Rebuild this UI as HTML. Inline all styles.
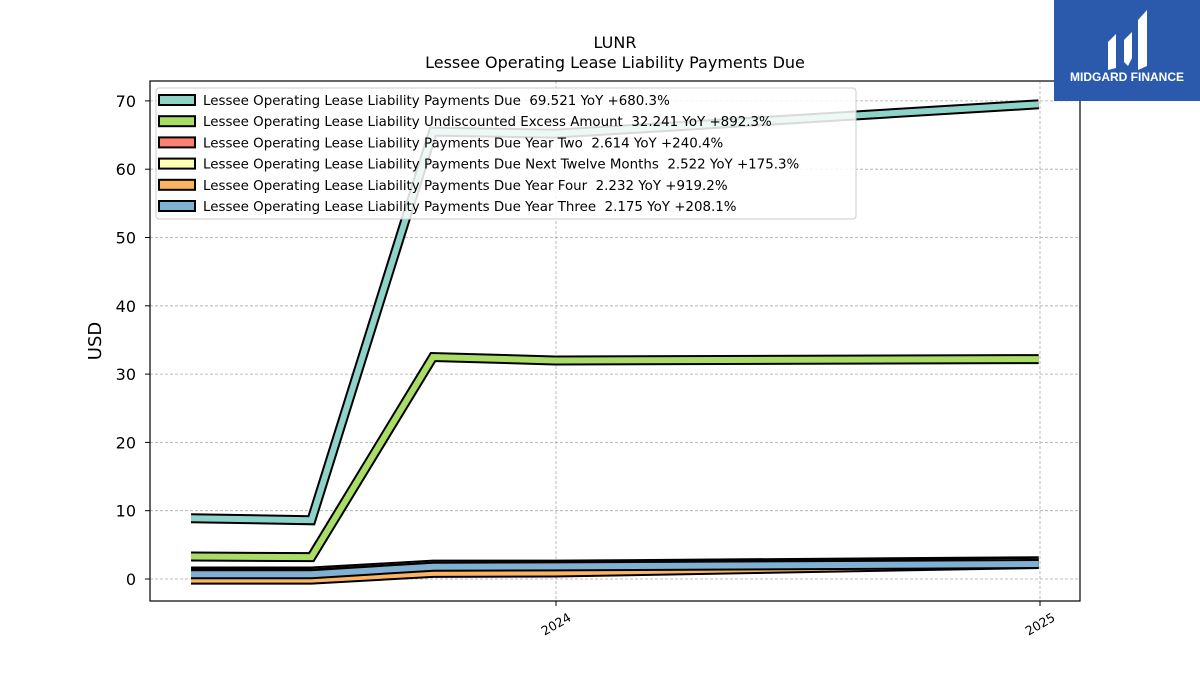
<!DOCTYPE html>
<html><head><meta charset="utf-8"><style>
body{margin:0;background:#fff;font-family:"Liberation Sans","DejaVu Sans",sans-serif}
svg text{font-family:"DejaVu Sans","Liberation Sans",sans-serif;white-space:pre}
</style></head><body>
<svg id="c" width="1200" height="675" xmlns="http://www.w3.org/2000/svg">
<rect width="1200" height="675" fill="#fff"/>
<text x="615" y="48" text-anchor="middle" font-size="16">LUNR</text>
<text x="615" y="68" text-anchor="middle" font-size="16">Lessee Operating Lease Liability Payments Due</text>
<g id="grid"></g><g id="series"></g>
<rect x="150" y="81" width="930" height="520" fill="none" stroke="#000" stroke-width="1.2"/>
<g id="axes"></g>
<text transform="translate(101,341) rotate(-90)" text-anchor="middle" font-size="18">USD</text>
<g id="legend"></g>
<g>
<rect x="1054" y="0" width="146" height="101" fill="#2b5aad"/>
<path d="M1108 42 l8 -8 v34 l-8 2z M1124 40 l8 -8 v26 l-4 8 l-4 -4z M1138 20 l9 -10 v56 l-9 4z" fill="#fff"/>
<text x="1127" y="81" text-anchor="middle" font-size="12" font-weight="bold" fill="#fff" style="font-family:'Liberation Sans',sans-serif">MIDGARD FINANCE</text>
</g>
</svg>
<script>
const dates=["2023-03-31","2023-06-30","2023-09-30","2023-12-31","2024-12-31"];
const seriesNames=["Lessee Operating Lease Liability Payments Due","Lessee Operating Lease Liability Undiscounted Excess Amount","Lessee Operating Lease Liability Payments Due Year Two","Lessee Operating Lease Liability Payments Due Next Twelve Months","Lessee Operating Lease Liability Payments Due Year Four","Lessee Operating Lease Liability Payments Due Year Three"];
const legendLabels=["69.521 YoY +680.3%","32.241 YoY +892.3%","2.614 YoY +240.4%","2.522 YoY +175.3%","2.232 YoY +919.2%","2.175 YoY +208.1%"];
const colors=["#8dd3c7","#aadd66","#fb8072","#ffffb3","#fdb462","#80b1d3"];
const sPayments=[8.9,8.6,65.5,65.2,69.5];
const sExcess=[3.3,3.2,32.5,32.0,32.2];
const sYearTwo=[1.1,1.1,2.1,2.1,2.6];
const sNext12=[0.8,0.8,1.8,1.8,2.5];
const sYearFour=[-0.1,-0.1,0.9,0.95,2.2];
const sYearThree=[0.7,0.7,1.8,1.85,2.2];
const allSeries=[sPayments,sExcess,sYearTwo,sNext12,sYearFour,sYearThree];
const yTicks=[0,10,20,30,40,50,60,70];
const xTicks=["2024-01-01","2025-01-01"];
const xTickLabels=["2024","2025"];
const NS="http://www.w3.org/2000/svg";
const t0=Date.parse("2024-01-01"),t1=Date.parse("2025-01-01");
function xs(d){return 556+(Date.parse(d)-t0)/(t1-t0)*484;}
function ys(v){return 579-v*6.83;}
function mk(tag,attrs,parent){const e=document.createElementNS(NS,tag);for(const k in attrs)e.setAttribute(k,attrs[k]);parent.appendChild(e);return e;}
const grid=document.getElementById('grid'),axes=document.getElementById('axes'),ser=document.getElementById('series'),leg=document.getElementById('legend');
yTicks.forEach(v=>{const y=ys(v);
const g=mk('line',{x1:150,x2:1080,y1:y,y2:y,stroke:'#aaa','stroke-dasharray':'3,2','stroke-width':0.8},grid);


mk('line',{x1:145,x2:150,y1:y,y2:y,stroke:'#000'},axes);
const t=mk('text',{x:136,y:y+6,'text-anchor':'end','font-size':16},axes);t.textContent=v;

});
xTicks.forEach((d,i)=>{const x=xs(d);
const g=mk('line',{x1:x,x2:x,y1:81,y2:601,stroke:'#aaa','stroke-dasharray':'3,2','stroke-width':0.8},grid);


mk('line',{x1:x,x2:x,y1:601,y2:606,stroke:'#000'},axes);
const t=mk('text',{x:x+16,y:620,'text-anchor':'end','font-size':12.5,transform:`rotate(-30 ${x+16} 620)`},axes);t.textContent=xTickLabels[i];

});
allSeries.forEach((s,i)=>{const pts=s.map((v,j)=>xs(dates[j])+','+ys(v)).join(' ');
const g=mk('g',{},ser);


mk('polyline',{points:pts,fill:'none',stroke:'#000','stroke-width':10,'stroke-linejoin':'miter'},g);
mk('polyline',{points:pts,fill:'none',stroke:colors[i],'stroke-width':6,'stroke-linejoin':'miter'},g);});
const lb=mk('rect',{x:156,y:88,width:700,height:131,fill:'#fff','fill-opacity':0.85,stroke:'#ccc',rx:3},leg);


seriesNames.forEach((n,i)=>{const y=100+i*21.2;
const g=mk('g',{},leg);


mk('rect',{x:159,y:y-5,width:36,height:10,fill:colors[i],stroke:'#000','stroke-width':2},g);
const t=mk('text',{x:203,y:y+5,'font-size':13.4},g);t.textContent=n+'\u00a0\u00a0'+legendLabels[i];});
</script>
</body></html>
